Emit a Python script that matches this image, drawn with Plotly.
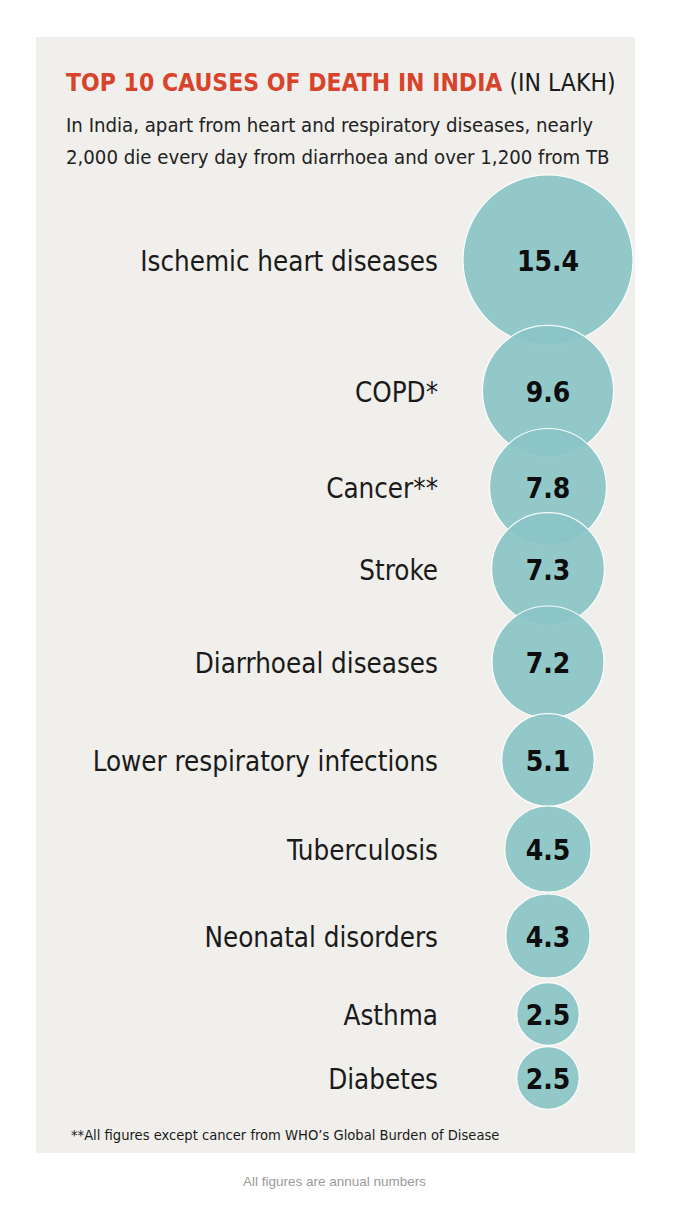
import plotly.graph_objects as go

causes = ["Ischemic heart diseases", "COPD*", "Cancer**", "Stroke", "Diarrhoeal diseases",
          "Lower respiratory infections", "Tuberculosis", "Neonatal disorders", "Asthma", "Diabetes"]
deaths_lakh = [15.4, 9.6, 7.8, 7.3, 7.2, 5.1, 4.5, 4.3, 2.5, 2.5]
value_labels = ["15.4", "9.6", "7.8", "7.3", "7.2", "5.1", "4.5", "4.3", "2.5", "2.5"]

title_main = "TOP 10 CAUSES OF DEATH IN INDIA"
title_unit = "(IN LAKH)"
subtitle_lines = ["In India, apart from heart and respiratory diseases, nearly",
                  "2,000 die every day from diarrhoea and over 1,200 from TB"]
footnote = "**All figures except cancer from WHO\u2019s Global Burden of Disease"
caption = "All figures are annual numbers"

# layout (pixel) positions of rows
row_y = [260, 391, 487, 569, 662, 760, 849, 936, 1014, 1078]
bubble_x = 548
label_x = 438
text_shift = 4  # visual baseline correction for text

W, H = 681, 1217
NARROW = "DejaVu Sans Condensed, Liberation Sans Narrow, sans-serif"
HEAVY = "DejaVu Sans Condensed, Liberation Sans Narrow, sans-serif"

sizes = [37.8 * v ** 0.55 for v in deaths_lakh]
text_y = [y + text_shift for y in row_y]

fig = go.Figure()
fig.add_shape(type="rect", x0=36, x1=635, y0=37, y1=1153, xref="x", yref="y",
              fillcolor="#f0efeb", line_width=0, layer="below")

fig.add_trace(go.Scatter(
    x=[bubble_x] * len(deaths_lakh), y=row_y,
    mode="markers",
    marker=dict(size=sizes, sizemode="diameter", color="#8cc5c7", opacity=0.92,
                line=dict(color="#ffffff", width=1.2)),
    hoverinfo="skip", showlegend=False,
))

fig.add_trace(go.Scatter(
    x=[bubble_x] * len(deaths_lakh), y=text_y,
    mode="text",
    text=[f"<b>{t}</b>" for t in value_labels],
    textposition="middle center",
    textfont=dict(family=HEAVY, size=28, color="#0d0d0d"),
    hoverinfo="skip", showlegend=False,
))

fig.add_trace(go.Scatter(
    x=[label_x] * len(causes), y=text_y,
    mode="text", text=causes, textposition="middle left",
    textfont=dict(family=NARROW, size=27.5, color="#1a1a1a"),
    hoverinfo="skip", showlegend=False,
))

anns = []
anns.append(dict(x=64, y=82, xref="x", yref="y", xanchor="left", yanchor="middle",
                 text=f"<b><span style='color:#d8432b'>{title_main}</span></b> {title_unit}",
                 showarrow=False, font=dict(family=NARROW, size=24.5, color="#1a1a1a")))
for i, line in enumerate(subtitle_lines):
    anns.append(dict(x=64, y=125 + 32 * i, xref="x", yref="y", xanchor="left", yanchor="middle",
                     text=line, showarrow=False,
                     font=dict(family=NARROW, size=20.2, color="#222222")))
anns.append(dict(x=69, y=1134, xref="x", yref="y", xanchor="left", yanchor="middle",
                 text=footnote, showarrow=False,
                 font=dict(family=NARROW, size=14.6, color="#1a1a1a")))
anns.append(dict(x=334, y=1181, xref="x", yref="y", xanchor="center", yanchor="middle",
                 text=caption, showarrow=False,
                 font=dict(family="Liberation Sans, Arial, sans-serif", size=13.5, color="#9a9a9a")))

fig.update_layout(
    width=W, height=H, margin=dict(l=0, r=0, t=0, b=0),
    paper_bgcolor="#ffffff", plot_bgcolor="#ffffff",
    xaxis=dict(range=[0, W], visible=False, fixedrange=True),
    yaxis=dict(range=[H, 0], visible=False, fixedrange=True),
    annotations=anns,
)

fig.write_html("out.html", config={"displayModeBar": False},
               post_script="document.body.style.margin='0px';document.body.style.padding='0px';")
